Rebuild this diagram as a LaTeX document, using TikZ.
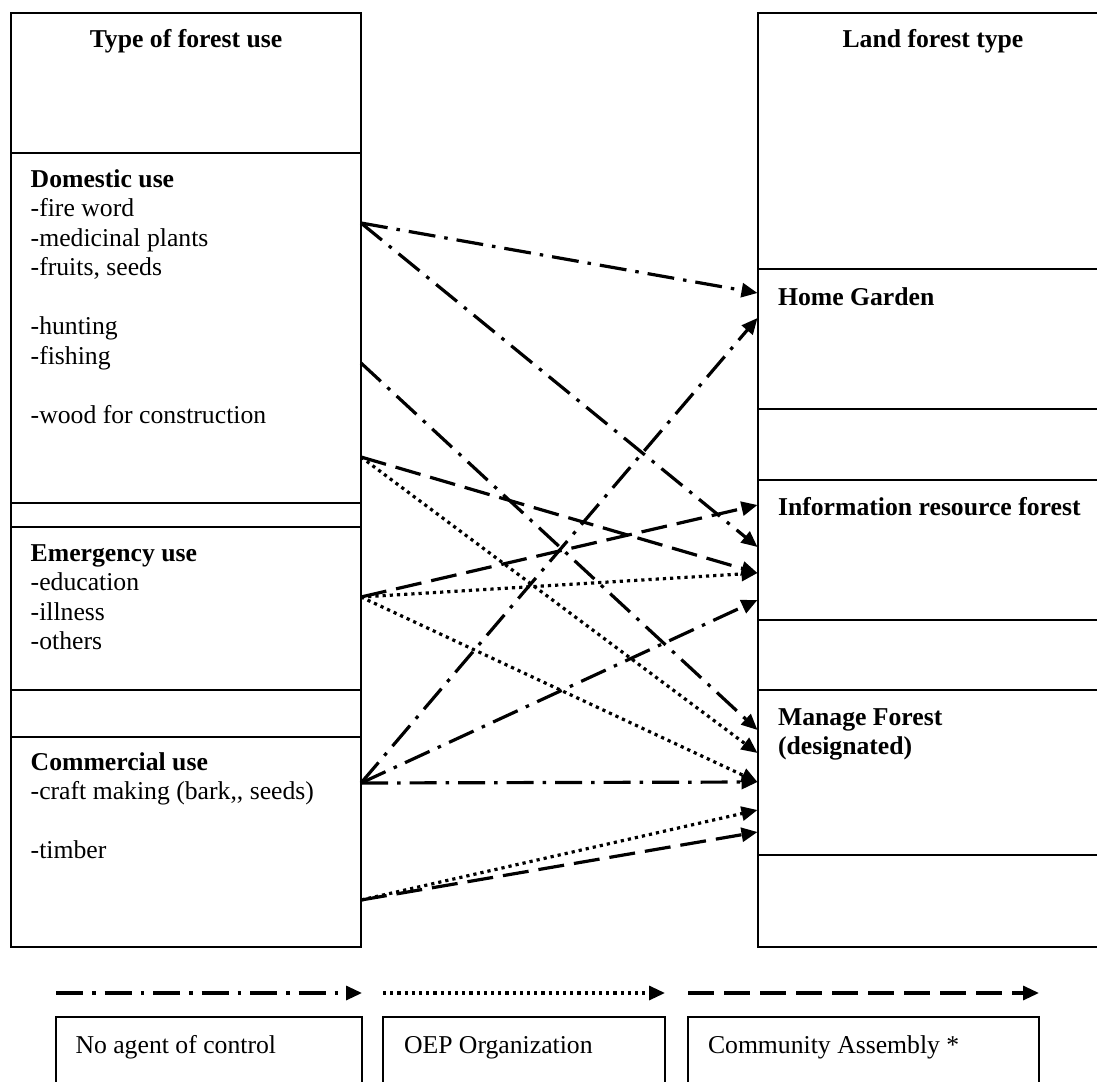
\documentclass[tikz,border=0pt]{standalone}
\usepackage{fontspec}
\setmainfont{Liberation Serif}
\usetikzlibrary{arrows.meta}

\begin{document}
\begin{tikzpicture}[x=1pt,y=-1pt,
  txt/.style={inner sep=0pt, outer sep=0pt, font=\fontsize{25.7}{29.5}\selectfont},
  ttl/.style={inner sep=0pt, outer sep=0pt, anchor=base, font=\fontsize{25.7}{29.5}\selectfont\bfseries},
  cell/.style={draw, line width=2pt, anchor=north west, inner sep=0pt, outer sep=0pt},
  lcell/.style={cell, minimum width=350.3pt},
  rcell/.style={cell, minimum width=350pt},
  link/.style={line width=3.2pt, -{Triangle[length=16pt,width=14pt]}},
  nocontrol/.style={link, dash pattern=on 27pt off 9pt on 3.5pt off 9pt},
  oep/.style={link, dash pattern=on 3.2pt off 4pt},
  assembly/.style={link, dash pattern=on 26pt off 10pt}]

\useasboundingbox (0,0) rectangle (1097,1081);

% left column: kinds of forest use
\node[lcell, minimum height=140.3pt] (lhead) at (10.7,12.7) {};
\node[lcell, minimum height=350pt]   (dom)   at (10.7,153) {};
\node[lcell, minimum height=24pt]    (lgapa) at (10.7,503) {};
\node[lcell, minimum height=163pt]   (emg)   at (10.7,527) {};
\node[lcell, minimum height=47pt]    (lgapb) at (10.7,690) {};
\node[lcell, minimum height=210pt]   (com)   at (10.7,737) {};

% right column: land forest types
\node[rcell, minimum height=256.3pt] (rhead) at (758,12.7) {};
\node[rcell, minimum height=140pt]   (home)  at (758,269) {};
\node[rcell, minimum height=71pt]    (rgapa) at (758,409) {};
\node[rcell, minimum height=140pt]   (info)  at (758,480) {};
\node[rcell, minimum height=70pt]    (rgapb) at (758,620) {};
\node[rcell, minimum height=165pt]   (mng)   at (758,690) {};
\node[rcell, minimum height=92pt]    (rgapc) at (758,855) {};

% legend boxes
\node[cell, minimum width=306pt, minimum height=100pt] (keyA) at (56,1017) {};
\node[cell, minimum width=282pt, minimum height=100pt] (keyB) at (383,1017) {};
\node[cell, minimum width=351pt, minimum height=100pt] (keyC) at (688,1017) {};

% headings and contents
\node[ttl] (lheadtxt) at (186,48) {Type of forest use};
\node[ttl] (rheadtxt) at (933,48) {Land forest type};

\node[txt, anchor=base west] (domtxt) at (30.7,187) {\begin{tabular}[t]{@{}l@{}}\textbf{Domestic use}\\-fire word\\-medicinal plants\\-fruits, seeds\\ \\-hunting\\-fishing\\ \\-wood for construction\end{tabular}};
\node[txt, anchor=base west] (emgtxt) at (30.7,561) {\begin{tabular}[t]{@{}l@{}}\textbf{Emergency use}\\-education\\-illness\\-others\end{tabular}};
\node[txt, anchor=base west] (comtxt) at (30.7,770) {\begin{tabular}[t]{@{}l@{}}\textbf{Commercial use}\\-craft making (bark,\kern0pt, seeds)\\ \\-timber\end{tabular}};

\node[txt, anchor=base west, font=\fontsize{25.7}{29.5}\selectfont\bfseries] (hometxt) at (778,305) {Home Garden};
\node[txt, anchor=base west, font=\fontsize{25.7}{29.5}\selectfont\bfseries] (infotxt) at (778,515) {Information resource forest};
\node[txt, anchor=base west] (mngtxt) at (778,725) {\begin{tabular}[t]{@{}l@{}}\textbf{Manage Forest}\\\textbf{(designated)}\end{tabular}};

\node[txt, anchor=base west] (keyAtxt) at (75.5,1053) {No agent of control};
\node[txt, anchor=base west] (keyBtxt) at (404,1053) {OEP Organization};
\node[txt, anchor=base west] (keyCtxt) at (708,1053) {Community Assembly *};

% connector ends on the left column
\coordinate (sA) at (361,223);
\coordinate (sB) at (361,363);
\coordinate (sC) at (361,457);
\coordinate (sD) at (361,597);
\coordinate (sE) at (361,783);
\coordinate (sF) at (361,900);

% connector ends on the right column
\coordinate (tHa) at (757.5,293);
\coordinate (tHb) at (757.5,318);
\coordinate (tIa) at (757.5,505);
\coordinate (tIb) at (757.5,547);
\coordinate (tIc) at (757.5,573);
\coordinate (tId) at (757.5,600);
\coordinate (tMa) at (757.5,730);
\coordinate (tMb) at (757.5,753);
\coordinate (tMc) at (757.5,782);
\coordinate (tMd) at (757.5,810);
\coordinate (tMe) at (757.5,832);

% domestic use
\draw[nocontrol] (sA) -- (tHa);
\draw[nocontrol] (sA) -- (tIb);
\draw[nocontrol] (sB) -- (tMa);
\draw[assembly]  (sC) -- (tIc);
\draw[oep]       (sC) -- (tMb);

% emergency use
\draw[assembly]  (sD) -- (tIa);
\draw[oep]       (sD) -- (tIc);
\draw[oep]       (sD) -- (tMc);

% commercial use
\draw[nocontrol] (sE) -- (tHb);
\draw[nocontrol] (sE) -- (tId);
\draw[nocontrol] (sE) -- (tMc);
\draw[oep]       (sF) -- (tMd);
\draw[assembly]  (sF) -- (tMe);

% legend lines
\coordinate (kAa) at (56,993);  \coordinate (kAb) at (362,993);
\coordinate (kBa) at (383,993); \coordinate (kBb) at (665,993);
\coordinate (kCa) at (688,993); \coordinate (kCb) at (1039,993);
\draw[nocontrol] (kAa) -- (kAb);
\draw[oep]       (kBa) -- (kBb);
\draw[assembly]  (kCa) -- (kCb);

\end{tikzpicture}
\end{document}
